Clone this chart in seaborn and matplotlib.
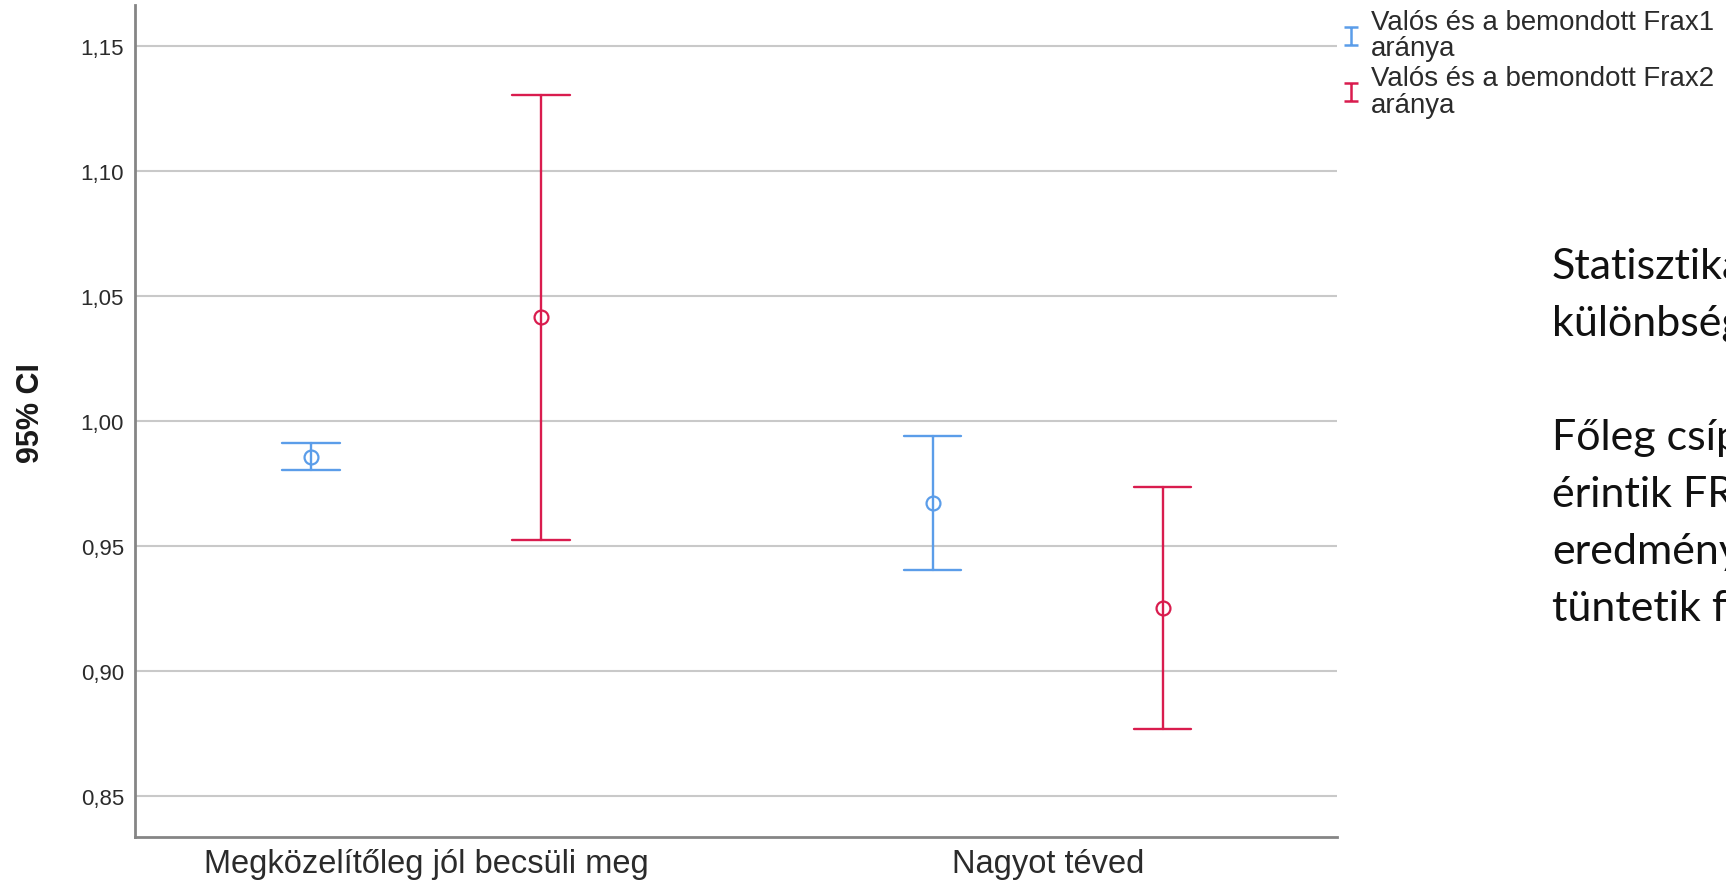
import numpy as np
import pandas as pd
import matplotlib
matplotlib.use("Agg")
import matplotlib.pyplot as plt
from matplotlib.lines import Line2D
from matplotlib.path import Path
from matplotlib.ticker import FuncFormatter
import seaborn as sns

# Groups on the x axis and the two compared ratios
categories = ["Megközelítőleg jól becsüli meg", "Nagyot téved"]
series = ["Valós és a bemondott Frax1\naránya", "Valós és a bemondott Frax2\naránya"]

# Mean and 95% confidence bounds for each group (Frax1, Frax2)
frax1_mean = [0.9856, 0.9673]
frax1_lower = [0.9803, 0.9404]
frax1_upper = [0.9914, 0.9940]
frax2_mean = [1.0416, 0.9251]
frax2_lower = [0.9523, 0.8769]
frax2_upper = [1.1305, 0.9736]

y_ticks = [0.85, 0.90, 0.95, 1.00, 1.05, 1.10, 1.15]
y_label = "95% CI"

side_note = ["Statisztikai", "különbség", "", "Főleg csípő", "érintik FRAX",
             "eredmény", "tüntetik fel"]

blue = "#5b9de9"
red = "#d91c4e"

# Long table: lower bound, mean and upper bound per group/series, so the
# median is the mean and the min/max span is the confidence interval.
rows = []
for name, lo, mid, hi in [(series[0], frax1_lower, frax1_mean, frax1_upper),
                          (series[1], frax2_lower, frax2_mean, frax2_upper)]:
    for cat, a, b, c in zip(categories, lo, mid, hi):
        for v in (a, b, c):
            rows.append({"group": cat, "series": name, "value": v})
df = pd.DataFrame(rows)

sns.set_theme(style="white")
plt.rcParams["font.family"] = ["Liberation Sans", "DejaVu Sans"]

fig = plt.figure(figsize=(17.26, 8.87), dpi=100)
ax = fig.add_axes([135 / 1726, 1 - 838 / 887, (1337 - 135) / 1726, (838 - 5.5) / 887])

sns.pointplot(
    data=df, x="group", y="value", hue="series", order=categories,
    hue_order=series, palette=[blue, red],
    estimator="median", errorbar=lambda v: (v.min(), v.max()),
    dodge=0.37, linestyle="none", markers="o", capsize=0.092,
    markersize=10, markeredgewidth=1.6, markerfacecolor="none",
    err_kws={"linewidth": 1.7}, ax=ax, legend=False,
)
for ln in ax.lines:
    ln.set_markerfacecolor("none")

ax.set_xlim(-0.468, 1.465)
ax.set_ylim(0.8336, 1.1666)
ax.set_yticks(y_ticks)
ax.yaxis.set_major_formatter(FuncFormatter(lambda v, p: f"{v:.2f}".replace(".", ",")))
ax.yaxis.grid(True, color="#c9c9c9", linewidth=1.5)
ax.xaxis.grid(False)
ax.set_axisbelow(True)

for side in ("top", "right"):
    ax.spines[side].set_visible(False)
for side in ("left", "bottom"):
    ax.spines[side].set_color("#858585")
    ax.spines[side].set_linewidth(2.0)

ax.tick_params(axis="both", length=0)
ax.tick_params(axis="y", pad=8, labelsize=16, labelcolor="#2b2b2b")
ax.tick_params(axis="x", pad=8, labelsize=23.5, labelcolor="#2b2b2b")
ax.set_xlabel("")
ax.set_ylabel("")
fig.text(31 / 1726, 1 - 413 / 887, y_label, rotation=90, ha="center", va="center",
         fontsize=22, fontweight="bold", color="#1a1a1a")

# Legend with an error-bar shaped handle
ibar = Path([(-0.75, 1), (0.75, 1), (0, 1), (0, -1), (-0.75, -1), (0.75, -1)],
            [Path.MOVETO, Path.LINETO, Path.MOVETO, Path.LINETO, Path.MOVETO, Path.LINETO])
handles = [Line2D([], [], linestyle="none", marker=ibar, markersize=13,
                  markeredgewidth=1.8, color=c, markerfacecolor="none")
           for c in (blue, red)]
leg = fig.legend(handles, series, loc="upper left",
                 bbox_to_anchor=(1340 / 1726, 1 - 10 / 887), frameon=False,
                 fontsize=19.9, handlelength=0.8, handletextpad=0.33,
                 borderpad=0, borderaxespad=0, labelspacing=0.14)
for t in leg.get_texts():
    t.set_linespacing(1.02)
    t.set_color("#2b2b2b")

# Note on the right side of the slide
for i, line in enumerate(side_note):
    if line:
        fig.text(1552 / 1726, 1 - (279 + 57 * i) / 887, line, fontsize=31,
                 family=["Lato", "DejaVu Sans"], color="#111111",
                 ha="left", va="baseline")

fig.savefig("out.png", dpi=100)
